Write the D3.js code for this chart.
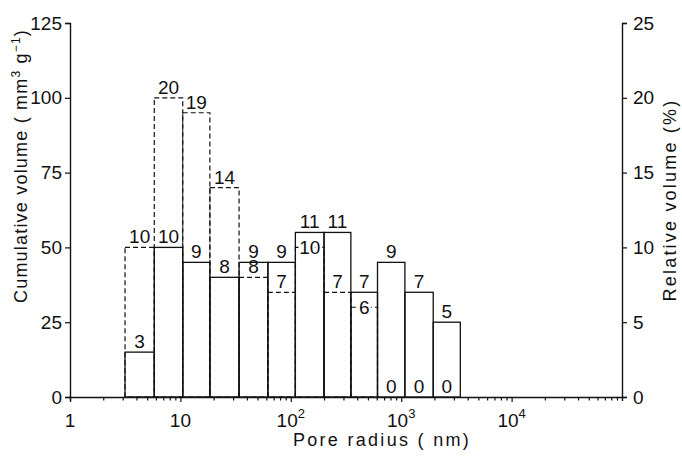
<!DOCTYPE html>
<html>
<head>
<meta charset="utf-8">
<script src="https://cdn.jsdelivr.net/npm/d3@7"></script>
<style>
  body { margin: 0; background: #fff; }
  text { font-family: "Liberation Sans", Arial, sans-serif; fill: #111; }
</style>
</head>
<body>
<div id="chart"></div>
<script>
// pore size histogram, two samples (solid / dashed), values in %
var binEdges = [3.15, 5.8, 10.5, 18.5, 34, 62, 110, 200, 350, 610, 1080, 1950, 3430];
var solidVals = [3, 10, 9, 8, 9, 9, 11, 11, 7, 9, 7, 5];
var dashedVals = [10, 20, 19, 14, 8, 7, 10, 7, 6, 0, 0, 0];
var leftTicks = [0, 25, 50, 75, 100, 125];
var rightTicks = [0, 5, 10, 15, 20, 25];
var xMajor = [1, 10, 100, 1000, 10000];
var xLabels = [["1", ""], ["10", ""], ["10", "2"], ["10", "3"], ["10", "4"]];

var w = 682, h = 459;
var x0 = 70, x1 = 622, yBot = 397, yTop = 23;
var ink = "#111";

var svg = d3.select("#chart").append("svg")
    .attr("width", w)
    .attr("height", h);

var x = d3.scaleLog().domain([1, 1e5]).range([x0, x1]);
var yL = d3.scaleLinear().domain([0, 125]).range([yBot, yTop]);
var yR = d3.scaleLinear().domain([0, 25]).range([yBot, yTop]);

var bins = solidVals.map(function(d, i) {
    return { lo: binEdges[i], hi: binEdges[i + 1], s: d, dv: dashedVals[i], i: i };
});

// dashed sample first, solid drawn over it
svg.append("g").selectAll("rect")
    .data(bins.filter(function(d) { return d.dv > 0; }))
    .enter()
    .append("rect")
    .attr("x", function(d) { return x(d.lo); })
    .attr("y", function(d) { return yR(d.dv); })
    .attr("width", function(d) { return x(d.hi) - x(d.lo); })
    .attr("height", function(d) { return yBot - yR(d.dv); })
    .attr("fill", "none")
    .attr("stroke", ink)
    .attr("stroke-width", 1.2)
    .attr("stroke-dasharray", "5,3");

svg.append("g").selectAll("rect")
    .data(bins)
    .enter()
    .append("rect")
    .attr("x", function(d) { return x(d.lo); })
    .attr("y", function(d) { return yR(d.s); })
    .attr("width", function(d) { return x(d.hi) - x(d.lo); })
    .attr("height", function(d) { return yBot - yR(d.s); })
    .attr("fill", "none")
    .attr("stroke", ink)
    .attr("stroke-width", 1.3);

// axes
var gL = svg.append("g").attr("transform", "translate(" + x0 + ",0)")
    .call(d3.axisLeft(yL).tickValues(leftTicks).tickSize(5).tickPadding(3));
var gR = svg.append("g").attr("transform", "translate(" + x1 + ",0)")
    .call(d3.axisRight(yR).tickValues(rightTicks).tickSize(5).tickPadding(6));

var minor = [];
for (var e = 0; e < 5; e++) {
    for (var k = 2; k <= 9; k++) minor.push(k * Math.pow(10, e));
}
var gB = svg.append("g").attr("transform", "translate(0," + yBot + ")")
    .call(d3.axisBottom(x).tickValues(xMajor.concat(minor)).tickSize(4).tickFormat(""));

[gL, gR, gB].forEach(function(g) {
    g.select(".domain").attr("stroke", ink).attr("stroke-width", 1.4);
    g.selectAll(".tick line").attr("stroke", ink).attr("stroke-width", 1.2);
    g.selectAll(".tick text")
        .attr("font-family", "Liberation Sans, Arial, sans-serif")
        .attr("font-size", "19px")
        .attr("fill", ink);
});
gB.selectAll(".tick line").attr("y2", function(d) {
    return xMajor.indexOf(d) >= 0 ? 5 : 3.5;
});

// x tick labels with superscripts
var xl = svg.append("g").selectAll("text")
    .data(xMajor)
    .enter()
    .append("text")
    .attr("x", function(d) { return x(d); })
    .attr("y", yBot + 30)
    .attr("text-anchor", "middle")
    .attr("font-size", "19px");
xl.append("tspan").text(function(d, i) { return xLabels[i][0]; });
xl.append("tspan")
    .attr("dy", -9)
    .attr("font-size", "13px")
    .text(function(d, i) { return xLabels[i][1]; });

// bar labels
var lab = svg.append("g").attr("font-size", "19px").attr("text-anchor", "middle");
function mid(d) { return Math.sqrt(d.lo * d.hi); }

lab.selectAll("text.s")
    .data(bins)
    .enter()
    .append("text")
    .attr("class", "s")
    .attr("x", function(d) { return x(mid(d)); })
    .attr("y", function(d) { return yR(d.s) - 4; })
    .text(function(d) { return d.s; });

// dashed labels sitting on their line (line knocked out behind)
var onLine = [6, 8];
lab.selectAll("text.dv")
    .data(bins)
    .enter()
    .append("text")
    .attr("class", "dv")
    .attr("x", function(d) { return x(mid(d)); })
    .attr("y", function(d) {
        if (d.dv === 0) return yBot - 4;
        if (onLine.indexOf(d.i) >= 0) return yR(d.dv) + 7;
        return yR(d.dv) - 4;
    })
    .attr("stroke", function(d) { return onLine.indexOf(d.i) >= 0 ? "#fff" : "none"; })
    .attr("stroke-width", 5)
    .attr("paint-order", "stroke")
    .text(function(d) { return d.dv; });

// axis titles
svg.append("text")
    .attr("x", 382)
    .attr("y", 446)
    .attr("text-anchor", "middle")
    .attr("font-size", "18px")
    .attr("letter-spacing", "2.3px")
    .text("Pore radius ( nm)");

var tl = svg.append("text")
    .attr("transform", "translate(27,166) rotate(-90)")
    .attr("text-anchor", "middle")
    .attr("font-size", "18px")
    .attr("letter-spacing", "1.2px");
tl.append("tspan").text("Cumulative volume ( mm");
tl.append("tspan").attr("dy", -7).attr("font-size", "12px").text("3");
tl.append("tspan").attr("dy", 7).text(" g");
tl.append("tspan").attr("dy", -7).attr("font-size", "12px").text("\u22121");
tl.append("tspan").attr("dy", 7).text(")");

svg.append("text")
    .attr("transform", "translate(676,200) rotate(-90)")
    .attr("text-anchor", "middle")
    .attr("font-size", "18px")
    .attr("letter-spacing", "2.2px")
    .text("Relative volume (%)");
</script>
</body>
</html>
